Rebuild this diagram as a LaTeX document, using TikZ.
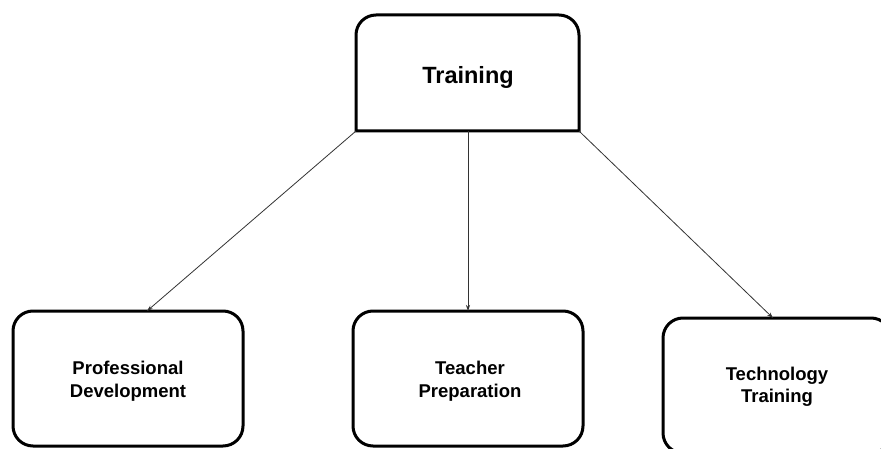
\documentclass[tikz,border=0pt]{standalone}
\usepackage{fontspec}
\setmainfont{Liberation Sans}
\usetikzlibrary{arrows.meta}
\begin{document}
\begin{tikzpicture}[x=1pt,y=-1pt,
  box/.style={draw=black, line width=3pt, rounded corners=20pt, fill=white},
  lbl/.style={font=\bfseries\fontsize{18.5}{22.5}\selectfont, align=center},
  conn/.style={draw=black!80, line width=0.8pt, -{Stealth[length=6pt,width=4pt]}}]
\useasboundingbox (0,0) rectangle (881,449);
\clip (0,0) rectangle (881,449);
\fill[white] (0,0) rectangle (881,449);
% top box: rounded top corners, square bottom corners
\draw[line width=3pt] (356,131) [rounded corners=20pt] -- (356,15) -- (579,15) [sharp corners] -- (579,131) -- cycle;
\coordinate (topbl) at (356,131);
\coordinate (topbm) at (468,131);
\coordinate (topbr) at (579,131);
\node[font=\bfseries\fontsize{23.5}{28}\selectfont] (train) at (468,77) {Training};
% bottom boxes
\draw[box] (13,311) rectangle (243,446);
\draw[box] (353,311) rectangle (583,446);
\draw[box] (663,318) rectangle (891,453);
\coordinate (pdtop) at (147,311);
\coordinate (tptop) at (468,311);
\coordinate (tttop) at (773,318);
\node[lbl] (pd) at (128,381) {Professional\\Development};
\node[lbl] (tp) at (470,381) {Teacher\\Preparation};
\node[lbl] (tt) at (777,387) {Technology\\Training};
% connectors
\draw[conn] (topbl) -- (pdtop);
\draw[conn] (topbm) -- (tptop);
\draw[conn] (topbr) -- (tttop);
\end{tikzpicture}
\end{document}
